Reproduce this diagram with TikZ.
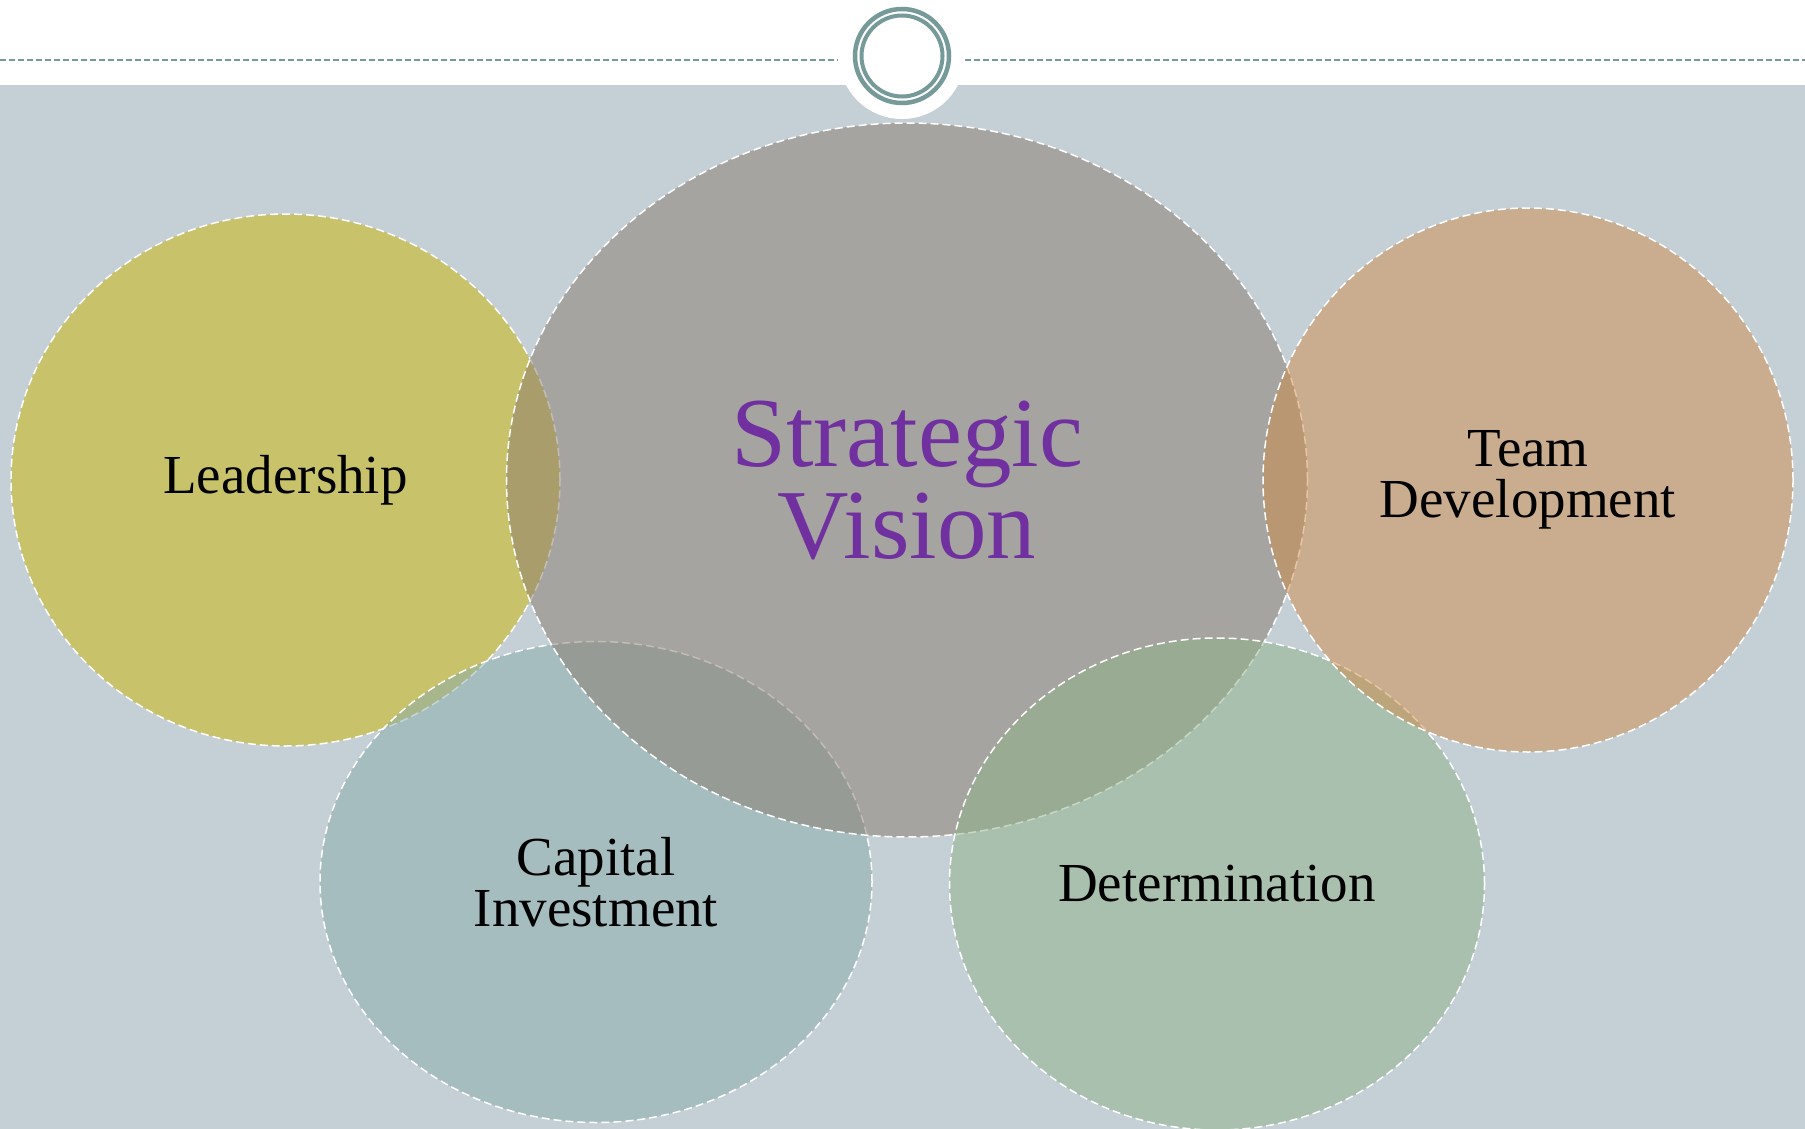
\documentclass[tikz,border=0pt]{standalone}
\usepackage{fontspec}
\setmainfont{Liberation Serif}
\usepackage{tikz}
\usetikzlibrary{shapes.geometric}
\definecolor{bgcol}{HTML}{C5D0D6}
\definecolor{rulecol}{HTML}{769A99}
\definecolor{leadcol}{HTML}{CBB600}
\definecolor{viscol}{HTML}{897A6C}
\definecolor{teamcol}{HTML}{CF8C48}
\definecolor{capcol}{HTML}{89ACAC}
\definecolor{detcol}{HTML}{8FB288}
\definecolor{purp}{HTML}{7030A0}
\tikzset{bub/.style={ellipse,draw=white,line width=1.5pt,dash pattern=on 8pt off 4pt,
  fill opacity=0.5,text opacity=1,inner sep=0pt,align=center}}
\tikzset{l/.style={font=\fontsize{55}{51}\selectfont}}
\tikzset{h/.style={font=\fontsize{99}{92}\selectfont,text=purp}}

\begin{document}
\begin{tikzpicture}[x=1pt,y=-1pt]
  \useasboundingbox (0,0) rectangle (1805,1129);
  \fill[white] (0,0) rectangle (1805,1129);
  \fill[bgcol] (0,85) rectangle (1805,1129);
  % header rule and ring
  \coordinate (r1) at (0,60);
  \coordinate (r2) at (838,60);
  \coordinate (r3) at (965,60);
  \coordinate (r4) at (1805,60);
  \draw[rulecol,line width=2pt,dash pattern=on 6pt off 3pt] (r1) -- (r2) (r3) -- (r4);
  \node (ring) at (902,56) [circle,fill=white,minimum size=126pt,inner sep=0pt] {};
  \draw[rulecol,line width=4.5pt] (ring.center) circle (47);
  \draw[rulecol,line width=4pt] (ring.center) circle (40.5);
  % bubbles
  \node (lead) at (285.5,480) [bub,fill=leadcol,minimum width=549pt,minimum height=532pt,l] {Leadership};
  \node (cap) at (596,882) [bub,fill=capcol,minimum width=552pt,minimum height=481pt,l] {Capital\\Investment};
  \node (vis) at (907,480) [bub,fill=viscol,minimum width=801pt,minimum height=714pt,h] {Strategic\\Vision};
  \node (det) at (1217,884) [bub,fill=detcol,minimum width=535pt,minimum height=492pt,l] {Determination};
  \node (team) at (1528,480) [bub,fill=teamcol,minimum width=530pt,minimum height=544pt,l] {Team\\Development};
\end{tikzpicture}
\end{document}
